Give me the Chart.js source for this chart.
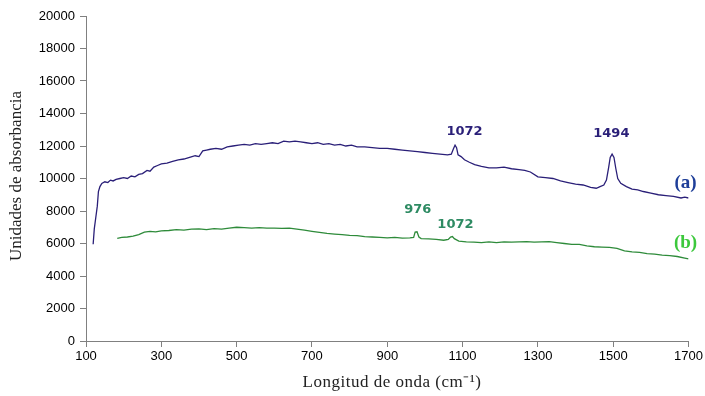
<!DOCTYPE html>
<html>
<head>
<meta charset="utf-8">
<script src="https://cdn.jsdelivr.net/npm/chart.js@4/dist/chart.umd.min.js"></script>
<style>
  html, body { margin: 0; padding: 0; background: #fff; }
  #wrap { width: 705px; height: 396px; }
</style>
</head>
<body>
<div id="wrap"><canvas id="grafico" width="705" height="396"></canvas></div>
<script>
// Datos
const ondaA = [119,122,126,130,133,137,142,150,158,165,172,180,190,200,210,220,230,240,250,262,270,280,290,300,315,330,345,360,375,390,400,410,420,430,445,460,475,490,505,520,535,550,565,580,595,610,625,640,655,670,685,700,715,730,745,760,775,790,805,820,840,860,880,900,920,940,960,980,1000,1020,1040,1060,1070,1076,1080,1084,1088,1096,1105,1118,1132,1150,1170,1190,1210,1230,1250,1265,1280,1300,1320,1340,1360,1380,1400,1420,1440,1455,1465,1475,1482,1488,1492,1497,1502,1507,1512,1520,1535,1550,1565,1580,1600,1620,1640,1660,1680,1690,1700];
const absA = [5950,6900,7600,8300,9200,9500,9700,9800,9750,9900,9850,9950,10000,10050,10000,10150,10100,10250,10300,10500,10450,10700,10800,10900,10950,11050,11150,11200,11300,11400,11350,11700,11750,11800,11850,11800,11950,12000,12050,12100,12050,12150,12100,12150,12200,12150,12300,12250,12300,12250,12200,12150,12200,12100,12150,12050,12100,12000,12050,11950,11950,11900,11850,11850,11800,11750,11700,11650,11600,11550,11500,11450,11500,11850,12050,11900,11450,11350,11150,11000,10850,10750,10650,10650,10700,10600,10550,10500,10400,10100,10050,10000,9850,9750,9650,9600,9450,9400,9500,9600,9900,10700,11300,11500,11300,10600,10000,9700,9500,9350,9300,9200,9100,9000,8950,8900,8800,8850,8800];

const ondaB = [183,195,210,225,240,255,270,285,300,320,340,360,380,400,420,440,460,480,500,520,540,560,580,600,620,640,660,680,700,720,740,760,780,800,820,840,860,880,900,920,940,960,970,974,979,984,990,1010,1030,1050,1062,1068,1073,1078,1090,1110,1130,1150,1170,1190,1210,1230,1250,1270,1290,1310,1330,1350,1370,1390,1410,1430,1450,1470,1490,1510,1530,1550,1570,1590,1610,1630,1650,1670,1690,1700];
const absB = [6320,6380,6400,6450,6550,6700,6750,6720,6780,6800,6850,6820,6880,6900,6850,6920,6880,6950,7000,6980,6950,6980,6950,6950,6930,6950,6880,6820,6750,6680,6620,6580,6550,6500,6480,6420,6400,6380,6350,6380,6330,6350,6380,6700,6720,6400,6300,6280,6250,6200,6250,6400,6430,6300,6150,6100,6080,6050,6100,6050,6100,6080,6100,6120,6080,6100,6110,6050,6000,5950,5940,5850,5800,5780,5760,5700,5550,5480,5450,5380,5350,5290,5250,5200,5100,5050];

// Etiquetas de picos: [texto, x, y, color]
const picos = [
  ['1072', 1105, 12900, '#2a1f78'],
  ['1494', 1495, 12750, '#2a1f78'],
  ['976', 981, 8060, '#2e8b63'],
  ['1072', 1081, 7140, '#2e8b63']
];
const series = [
  ['(a)', 1692, 9720, '#1f3f99'],
  ['(b)', 1692, 6030, '#3cc83c']
];

function puntos(xs, ys) {
  return xs.map((x, i) => ({ x: x, y: ys[i] }));
}

const textos = {
  id: 'textos',
  afterDraw(chart) {
    const ctx = chart.ctx;
    const sx = chart.scales.x, sy = chart.scales.y;
    ctx.save();
    ctx.textAlign = 'center';
    ctx.textBaseline = 'middle';
    ctx.font = 'bold 13px "DejaVu Sans"';
    picos.forEach(p => {
      ctx.fillStyle = p[3];
      ctx.fillText(p[0], sx.getPixelForValue(p[1]), sy.getPixelForValue(p[2]));
    });
    ctx.font = 'bold 19px "Liberation Serif"';
    series.forEach(s => {
      ctx.fillStyle = s[3];
      ctx.fillText(s[0], sx.getPixelForValue(s[1]), sy.getPixelForValue(s[2]));
    });
    // titulos de ejes
    ctx.fillStyle = '#222';
    ctx.font = '17px "Liberation Serif"';
    ctx.letterSpacing = '0.5px';
    ctx.fillText('Longitud de onda (cm\u207B\u00B9)', 392, 383);
    ctx.letterSpacing = '0px';
    ctx.translate(17, 176);
    ctx.rotate(-Math.PI / 2);
    ctx.fillText('Unidades de absorbancia', 0, 0);
    ctx.restore();
  }
};

let ctx = document.getElementById('grafico').getContext('2d');
new Chart(ctx, {
  type: 'line',
  data: {
    datasets: [{
      label: '(a)',
      data: puntos(ondaA, absA),
      borderColor: '#2a1f78',
      borderWidth: 1.3,
      pointRadius: 0,
      tension: 0
    }, {
      label: '(b)',
      data: puntos(ondaB, absB),
      borderColor: '#2e8b3a',
      borderWidth: 1.3,
      pointRadius: 0,
      tension: 0
    }]
  },
  options: {
    responsive: false,
    animation: false,
    layout: { padding: { top: 16, right: 16, left: 0, bottom: 0 } },
    plugins: { legend: { display: false }, tooltip: { enabled: false } },
    scales: {
      x: {
        type: 'linear',
        min: 100,
        max: 1700,
        afterFit: s => { s.height = 55; },
        ticks: { stepSize: 200, color: '#000', font: { family: 'Liberation Sans', size: 13 }, padding: 2, maxRotation: 0, callback: v => String(v) },
        grid: { drawOnChartArea: false, tickLength: 6, color: '#808080' },
        border: { color: '#808080' }
      },
      y: {
        min: 0,
        max: 20000,
        afterFit: s => { s.width = 86; },
        ticks: { stepSize: 2000, color: '#000', font: { family: 'Liberation Sans', size: 13 }, padding: 5, callback: v => String(v) },
        grid: { drawOnChartArea: false, tickLength: 6, color: '#808080' },
        border: { color: '#808080' }
      }
    }
  },
  plugins: [textos]
});
</script>
</body>
</html>
